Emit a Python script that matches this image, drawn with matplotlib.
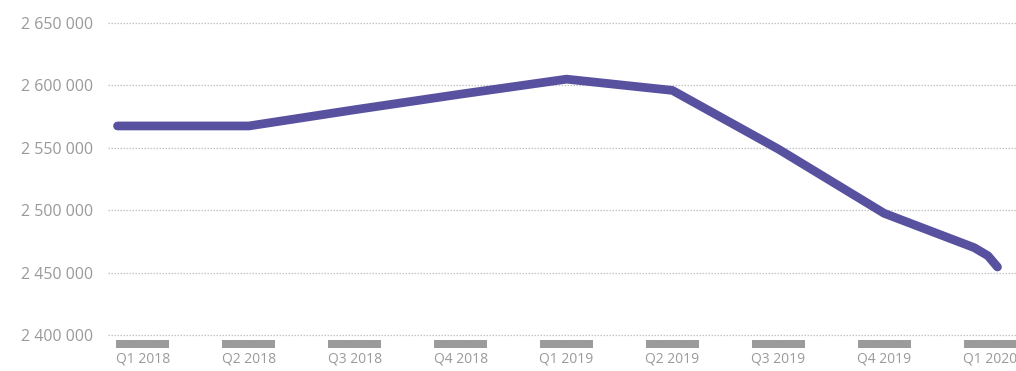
import matplotlib
matplotlib.use("Agg")
import matplotlib.pyplot as plt

# quarters on the x axis
quarters = ["Q1 2018", "Q2 2018", "Q3 2018", "Q4 2018", "Q1 2019",
            "Q2 2019", "Q3 2019", "Q4 2019", "Q1 2020"]

# line points, x in quarter units (0 = Q1 2018)
line_x = [-0.24, 1.0, 2.0, 3.0, 4.0, 5.0, 6.0, 7.0, 7.85, 7.98, 8.07]
line_y = [2567500, 2567500, 2580500, 2593000, 2605000,
          2596000, 2549000, 2497500, 2470000, 2463500, 2454500]

# grey placeholder bars under the axis
bar_bottom = 2389500
bar_height = 6500

yticks = [2400000, 2450000, 2500000, 2550000, 2600000, 2650000]

fig = plt.figure(figsize=(10.16, 3.71), dpi=100)
ax = fig.add_axes([108 / 1016, 21 / 371, 908 / 1016, 340 / 371])

xs = list(range(len(quarters)))
ax.bar(xs, [bar_height] * len(xs), bottom=bar_bottom, width=0.5,
       color="#9b9b9b", zorder=2)

ax.plot(line_x, line_y, color="#58519f", lw=6.3,
        solid_capstyle="round", solid_joinstyle="round", zorder=3)

ax.set_xlim(-0.33, 8.245)
ax.set_ylim(2387981, 2660417)

ax.set_yticks(yticks)
ax.set_yticklabels([f"{v:,}".replace(",", " ") for v in yticks])
ax.set_xticks(xs)
ax.set_xticklabels(quarters)

ax.grid(axis="y", color="#c4c4c4", lw=0.9, ls=(0, (1.2, 1.2)))
ax.set_axisbelow(True)
for s in ax.spines.values():
    s.set_visible(False)
ax.tick_params(axis="both", length=0)
ax.tick_params(axis="y", labelsize=11.5, labelcolor="#9a9a9a", pad=11)
ax.tick_params(axis="x", labelsize=10, labelcolor="#9a9a9a", pad=1)
for lab in ax.get_xticklabels() + ax.get_yticklabels():
    lab.set_family("Open Sans")

fig.savefig("out.png", dpi=100)
